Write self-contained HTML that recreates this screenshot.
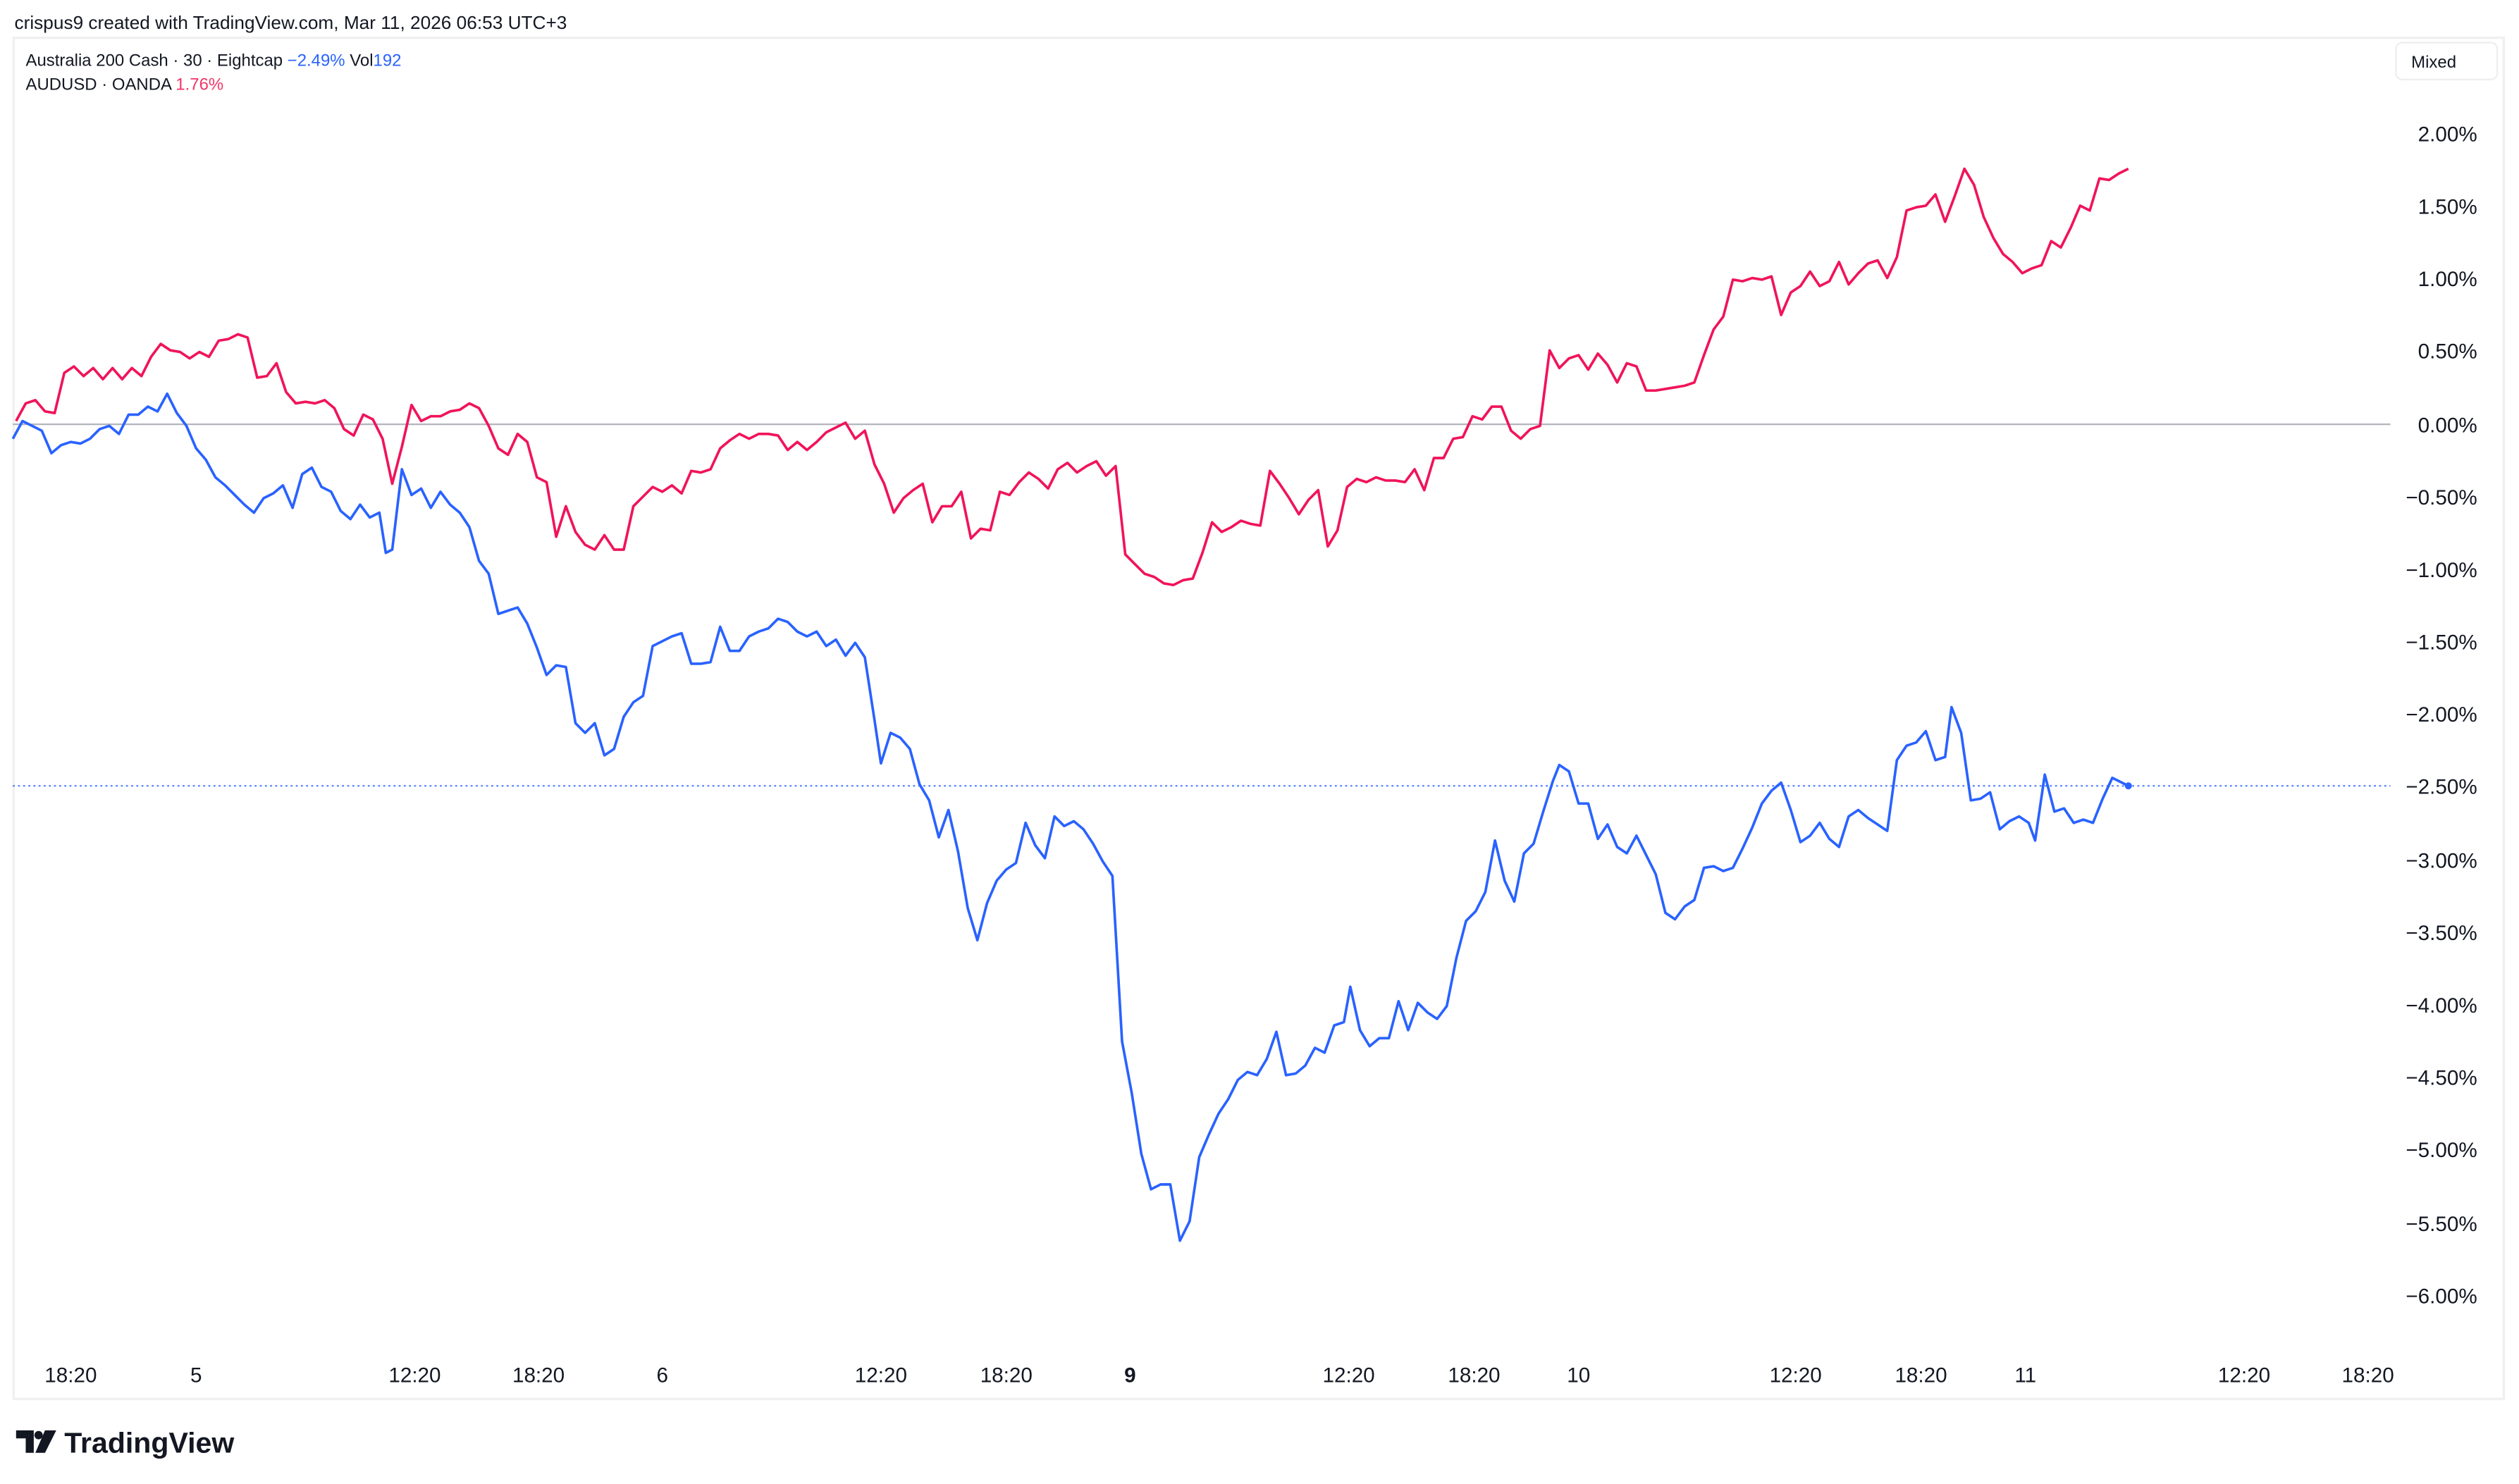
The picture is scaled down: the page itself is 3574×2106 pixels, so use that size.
<!DOCTYPE html>
<html><head><meta charset="utf-8"><style>
html,body{margin:0;padding:0;background:#fff;}
svg{display:block;}
text{font-family:"Liberation Sans",sans-serif;}
</style></head><body>
<svg width="3574" height="2106" viewBox="0 0 1567 923.4" preserveAspectRatio="none" xmlns="http://www.w3.org/2000/svg">
<rect x="0" y="0" width="1567" height="924" fill="#fff"/>
<text x="9" y="18" font-size="11.5" fill="#131722">crispus9 created with TradingView.com, Mar 11, 2026 06:53 UTC+3</text>
<rect x="8.5" y="23.5" width="1549" height="847" fill="#fff" stroke="#f0f0f0" stroke-width="1.5"/>
<text x="16" y="41" font-size="10.5" fill="#131722">Australia 200 Cash · 30 · Eightcap <tspan fill="#2962ff">−2.49%</tspan> Vol<tspan fill="#2962ff">192</tspan></text>
<text x="16" y="56" font-size="10.5" fill="#131722">AUDUSD · OANDA <tspan fill="#f23568">1.76%</tspan></text>
<rect x="1490.5" y="26.5" width="63" height="23" rx="4" fill="#fff" stroke="#eee"/>
<text x="1500" y="42" font-size="10.5" fill="#131722">Mixed</text>
<line x1="8" y1="264" x2="1487" y2="264" stroke="#b2b5be" stroke-width="1"/>
<line x1="8" y1="489" x2="1487" y2="489" stroke="#2962ff" stroke-width="1" stroke-dasharray="1.2,2" opacity="0.8"/>
<g font-size="13" fill="#131722" text-anchor="end">
<text x="1541" y="88">2.00%</text><text x="1541" y="133">1.50%</text><text x="1541" y="178">1.00%</text><text x="1541" y="223">0.50%</text><text x="1541" y="269">0.00%</text><text x="1541" y="314">−0.50%</text><text x="1541" y="359">−1.00%</text><text x="1541" y="404">−1.50%</text><text x="1541" y="449">−2.00%</text><text x="1541" y="494">−2.50%</text><text x="1541" y="540">−3.00%</text><text x="1541" y="585">−3.50%</text><text x="1541" y="630">−4.00%</text><text x="1541" y="675">−4.50%</text><text x="1541" y="720">−5.00%</text><text x="1541" y="766">−5.50%</text><text x="1541" y="811">−6.00%</text>
</g>
<g font-size="13" fill="#131722" text-anchor="middle">
<text x="44" y="860">18:20</text><text x="122" y="860">5</text><text x="258" y="860">12:20</text><text x="335" y="860">18:20</text><text x="412" y="860">6</text><text x="548" y="860">12:20</text><text x="626" y="860">18:20</text><text x="703" y="860" font-weight="bold">9</text><text x="839" y="860">12:20</text><text x="917" y="860">18:20</text><text x="982" y="860">10</text><text x="1117" y="860">12:20</text><text x="1195" y="860">18:20</text><text x="1260" y="860">11</text><text x="1396" y="860">12:20</text><text x="1473" y="860">18:20</text>
</g>
<polyline fill="none" stroke="#f0145a" stroke-width="1.6" stroke-linejoin="round" points="10,262 16,251 22,249 28,256 34,257 40,232 46,228 52,234 58,229 64,236 70,229 76,236 82,229 88,234 94,222 100,214 106,218 112,219 118,223 124,219 130,222 136,212 142,211 148,208 154,210 160,235 166,234 172,226 178,244 184,251 190,250 196,251 202,249 208,254 214,267 220,271 226,258 232,261 238,273 244,301 250,278 256,252 262,262 268,259 274,259 280,256 286,255 292,251 298,254 304,265 310,279 316,283 322,270 328,275 334,297 340,300 346,334 352,315 358,331 364,339 370,342 376,333 382,342 388,342 394,315 400,309 406,303 412,306 418,302 424,307 430,293 436,294 442,292 448,279 454,274 460,270 466,273 472,270 478,270 484,271 490,280 496,275 502,280 508,275 514,269 520,266 526,263 532,273 538,268 544,289 550,301 556,319 562,310 568,305 574,301 580,325 586,315 592,315 598,306 604,335 610,329 616,330 622,306 628,308 634,300 640,294 646,298 652,304 658,292 664,288 670,294 676,290 682,287 688,296 694,290 700,345 706,351 712,357 718,359 724,363 730,364 736,361 742,360 748,344 754,325 760,331 766,328 772,324 778,326 784,327 790,293 796,301 802,310 808,320 814,311 820,305 826,340 832,330 838,303 844,298 850,300 856,297 862,299 868,299 874,300 880,292 886,305 892,285 898,285 904,273 910,272 916,259 922,261 928,253 934,253 940,268 946,273 952,267 958,265 964,218 970,229 976,223 982,221 988,230 994,220 1000,227 1006,238 1012,226 1018,228 1024,243 1030,243 1036,242 1042,241 1048,240 1054,238 1060,221 1066,205 1072,197 1078,174 1084,175 1090,173 1096,174 1102,172 1108,196 1114,182 1120,178 1126,169 1132,178 1138,175 1144,163 1150,177 1156,170 1162,164 1168,162 1174,173 1180,160 1186,131 1192,129 1198,128 1204,121 1210,138 1216,122 1222,105 1228,115 1234,135 1240,148 1246,158 1252,163 1258,170 1264,167 1270,165 1276,150 1282,154 1288,142 1294,128 1300,131 1306,111 1312,112 1318,108 1324,105"/>
<polyline fill="none" stroke="#2962ff" stroke-width="1.6" stroke-linejoin="round" points="8,273 14,262 20,265 26,268 32,282 38,277 44,275 50,276 56,273 62,267 68,265 74,270 80,258 86,258 92,253 98,256 104,245 110,257 116,265 122,279 128,286 134,297 140,302 146,308 152,314 158,319 164,310 170,307 176,302 182,316 188,295 194,291 200,303 206,306 212,318 218,323 224,314 230,322 236,319 240,344 244,342 250,292 256,308 262,304 268,316 274,306 280,314 286,319 292,328 298,349 304,357 310,382 316,380 322,378 328,388 334,403 340,420 346,414 352,415 358,450 364,456 370,450 376,470 382,466 388,446 394,437 400,433 406,402 412,399 418,396 424,394 430,413 436,413 442,412 448,390 454,405 460,405 466,396 472,393 478,391 484,385 490,387 496,393 502,396 508,393 514,402 520,398 526,408 532,400 538,409 544,448 548,475 554,456 560,459 566,466 572,488 578,498 584,521 590,504 596,530 602,565 608,585 614,562 620,548 626,541 632,537 638,512 644,526 650,534 656,508 662,514 668,511 674,516 680,525 686,536 692,545 698,648 704,680 710,718 716,740 722,737 728,737 734,772 740,760 746,720 752,706 758,693 764,684 770,672 776,667 782,669 788,659 794,642 800,669 806,668 812,663 818,652 824,655 830,638 836,636 840,614 846,641 852,651 858,646 864,646 870,623 876,641 882,624 888,630 894,634 900,626 906,596 912,573 918,567 924,555 930,523 936,548 942,561 948,531 954,525 960,505 966,486 970,476 976,480 982,500 988,500 994,522 1000,513 1006,527 1012,531 1018,520 1024,532 1030,544 1036,568 1042,572 1048,564 1054,560 1060,540 1066,539 1072,542 1078,540 1084,528 1090,515 1096,500 1102,492 1108,487 1114,504 1120,524 1126,520 1132,512 1138,522 1144,527 1150,508 1156,504 1162,509 1168,513 1174,517 1180,473 1186,464 1192,462 1198,455 1204,473 1210,471 1214,440 1220,456 1226,498 1232,497 1238,493 1244,516 1250,511 1256,508 1262,512 1266,523 1272,482 1278,505 1284,503 1290,512 1296,510 1302,512 1308,497 1314,484 1318,486 1324,489"/>
<circle cx="1324" cy="489" r="2.2" fill="#2962ff"/>
<g transform="translate(10,890)">
<path d="M0,0 H11 V14 H6 V5 H0 Z" fill="#131722"/>
<circle cx="14" cy="3" r="2.6" fill="#131722"/>
<path d="M18,0 H25 L18,14 H12 Z" fill="#131722"/>
</g>
<text x="40" y="904" font-size="18" font-weight="bold" fill="#131722">TradingView</text>
</svg>
</body></html>
